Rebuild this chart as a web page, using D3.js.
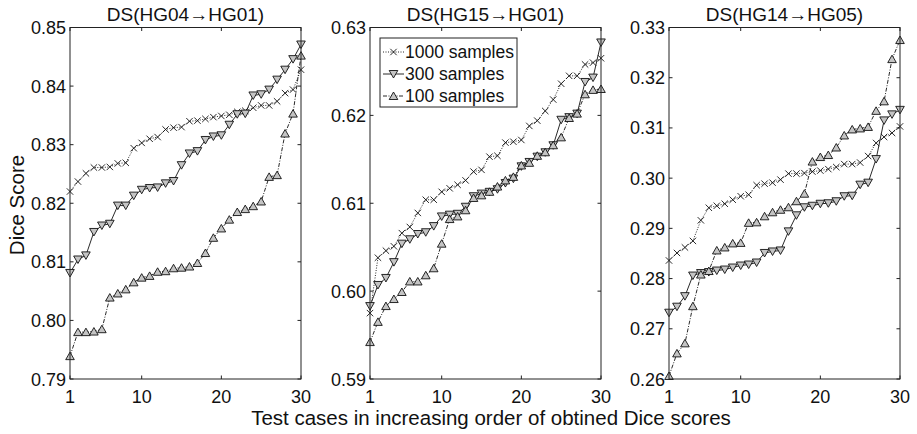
<!DOCTYPE html>
<html>
<head>
<meta charset="utf-8">
<script src="https://cdn.jsdelivr.net/npm/d3@7"></script>
<style>
  body { margin: 0; background: #fff; }
  svg { font-family: "Liberation Sans", Arial, Helvetica, sans-serif; }
  .tick-label { font-size: 18px; fill: #111; }
</style>
</head>
<body>
<div id="chart"></div>
<script>
// test case index 1..30
const cases = d3.range(1, 31);

const seriesNames = ["1000 samples", "300 samples", "100 samples"];

const panelTitles = ["DS(HG04\u2192HG01)", "DS(HG15\u2192HG01)", "DS(HG14\u2192HG05)"];
const panelDomains = [[0.79, 0.85], [0.59, 0.63], [0.26, 0.33]];
const panelYTicks = [
  [0.79, 0.80, 0.81, 0.82, 0.83, 0.84, 0.85],
  [0.59, 0.60, 0.61, 0.62, 0.63],
  [0.26, 0.27, 0.28, 0.29, 0.30, 0.31, 0.32, 0.33]
];
const xTicks = [1, 10, 20, 30];

// panel 1: HG04 -> HG01
const p1_1000 = [0.8220, 0.8237, 0.8251, 0.8261, 0.8261, 0.8262, 0.8268, 0.8269, 0.8294, 0.8303,
                 0.8310, 0.8313, 0.8326, 0.8329, 0.8330, 0.8340, 0.8341, 0.8344, 0.8347, 0.8349,
                 0.8351, 0.8356, 0.8358, 0.8363, 0.8367, 0.8367, 0.8374, 0.8388, 0.8394, 0.8428];
const p1_300  = [0.8081, 0.8104, 0.8111, 0.8151, 0.8162, 0.8165, 0.8196, 0.8196, 0.8213, 0.8223,
                 0.8226, 0.8227, 0.8234, 0.8238, 0.8265, 0.8285, 0.8289, 0.8308, 0.8314, 0.8316,
                 0.8334, 0.8352, 0.8353, 0.8384, 0.8386, 0.8394, 0.8411, 0.8428, 0.8446, 0.8471];
const p1_100  = [0.7939, 0.7980, 0.7980, 0.7981, 0.7985, 0.8039, 0.8046, 0.8053, 0.8065, 0.8073,
                 0.8076, 0.8083, 0.8084, 0.8089, 0.8090, 0.8092, 0.8098, 0.8115, 0.8141, 0.8157,
                 0.8172, 0.8185, 0.8190, 0.8195, 0.8203, 0.8245, 0.8248, 0.8319, 0.8353, 0.8452];

// panel 2: HG15 -> HG01
const p2_1000 = [0.5975, 0.6038, 0.6046, 0.6051, 0.6066, 0.6073, 0.6089, 0.6104, 0.6104, 0.6113,
                 0.6117, 0.6121, 0.6126, 0.6136, 0.6138, 0.6153, 0.6154, 0.6169, 0.6170, 0.6172,
                 0.6188, 0.6194, 0.6205, 0.6218, 0.6236, 0.6245, 0.6245, 0.6258, 0.6260, 0.6265];
const p2_300  = [0.5983, 0.6007, 0.6015, 0.6033, 0.6054, 0.6059, 0.6065, 0.6067, 0.6074, 0.6085,
                 0.6087, 0.6088, 0.6096, 0.6108, 0.6111, 0.6113, 0.6116, 0.6123, 0.6128, 0.6142,
                 0.6147, 0.6153, 0.6158, 0.6166, 0.6195, 0.6198, 0.6202, 0.6238, 0.6243, 0.6283];
const p2_100  = [0.5942, 0.5965, 0.5983, 0.5991, 0.5999, 0.6011, 0.6011, 0.6018, 0.6026, 0.6054,
                 0.6082, 0.6085, 0.6092, 0.6106, 0.6109, 0.6113, 0.6119, 0.6126, 0.6130, 0.6143,
                 0.6146, 0.6154, 0.6158, 0.6166, 0.6175, 0.6197, 0.6202, 0.6224, 0.6229, 0.6230];

// panel 3: HG14 -> HG05
const p3_1000 = [0.2836, 0.2851, 0.2862, 0.2875, 0.2916, 0.2941, 0.2945, 0.2949, 0.2957, 0.2964,
                 0.2967, 0.2986, 0.2989, 0.2991, 0.2997, 0.3009, 0.3009, 0.3010, 0.3013, 0.3015,
                 0.3018, 0.3022, 0.3028, 0.3028, 0.3031, 0.3044, 0.3070, 0.3082, 0.3090, 0.3103];
const p3_300  = [0.2732, 0.2744, 0.2765, 0.2806, 0.2811, 0.2813, 0.2816, 0.2818, 0.2822, 0.2826,
                 0.2828, 0.2832, 0.2851, 0.2854, 0.2856, 0.2894, 0.2926, 0.2942, 0.2945, 0.2949,
                 0.2950, 0.2954, 0.2964, 0.2965, 0.2987, 0.2991, 0.3038, 0.3115, 0.3127, 0.3136];
const p3_100  = [0.2606, 0.2651, 0.2671, 0.2745, 0.2808, 0.2815, 0.2856, 0.2862, 0.2870, 0.2871,
                 0.2911, 0.2912, 0.2924, 0.2932, 0.2937, 0.2942, 0.2954, 0.2969, 0.3033, 0.3042,
                 0.3046, 0.3061, 0.3085, 0.3097, 0.3099, 0.3102, 0.3134, 0.3153, 0.3237, 0.3275];

const panelData = [
  [p1_1000, p1_300, p1_100],
  [p2_1000, p2_300, p2_100],
  [p3_1000, p3_300, p3_100]
];

// line + marker style per series
const styles = [
  { dash: "1,1.5", marker: "x" },
  { dash: null,    marker: "down" },
  { dash: "4,1.5,1,1.5", marker: "up" }
];

const fullW = 917, fullH = 434;
const panelLeft = [70, 370, 669];
const panelW = 231;
const plotTop = 27.5, plotBottom = 379;

const svg = d3.select("#chart").append("svg")
  .attr("width", fullW).attr("height", fullH);

function markerPath(type) {
  if (type === "x") return "M-3.2,-3.2L3.2,3.2M-3.2,3.2L3.2,-3.2";
  if (type === "down") return "M-4.3,-3.5L4.3,-3.5L0,4Z";
  return "M-4.3,3.5L4.3,3.5L0,-4Z";
}

function drawMarkers(g, pts, type) {
  g.selectAll(null).data(pts).enter().append("path")
    .attr("transform", d => `translate(${d[0]},${d[1]})`)
    .attr("d", markerPath(type))
    .attr("fill", type === "x" ? "none" : "#c4c4c4")
    .attr("stroke", "#111")
    .attr("stroke-width", 0.9);
}

panelData.forEach((series, p) => {
  const x = d3.scaleLinear().domain([1, 30]).range([panelLeft[p], panelLeft[p] + panelW]);
  const y = d3.scaleLinear().domain(panelDomains[p]).range([plotBottom, plotTop]);
  const g = svg.append("g");

  // ticks (inward, all four sides)
  const ax = g.append("g").attr("stroke", "#222").attr("stroke-width", 1);
  xTicks.forEach(t => {
    ax.append("line").attr("x1", x(t)).attr("x2", x(t)).attr("y1", plotBottom).attr("y2", plotBottom - 3.5);
    ax.append("line").attr("x1", x(t)).attr("x2", x(t)).attr("y1", plotTop).attr("y2", plotTop + 3.5);
  });
  panelYTicks[p].forEach(t => {
    ax.append("line").attr("x1", x(1)).attr("x2", x(1) + 3.5).attr("y1", y(t)).attr("y2", y(t));
    ax.append("line").attr("x1", x(30)).attr("x2", x(30) - 3.5).attr("y1", y(t)).attr("y2", y(t));
  });

  // tick labels
  xTicks.forEach(t => {
    g.append("text").attr("class", "tick-label")
      .attr("x", x(t)).attr("y", plotBottom + 24)
      .attr("text-anchor", "middle").text(t);
  });
  panelYTicks[p].forEach(t => {
    g.append("text").attr("class", "tick-label")
      .attr("x", x(1) - 4).attr("y", y(t) + 6.5)
      .attr("text-anchor", "end").text(t.toFixed(2));
  });

  // series
  const line = d3.line().x((d, i) => x(cases[i])).y(d => y(d));
  series.forEach((vals, s) => {
    g.append("path").datum(vals)
      .attr("d", line)
      .attr("fill", "none")
      .attr("stroke", "#111")
      .attr("stroke-width", 0.9)
      .attr("stroke-dasharray", styles[s].dash);
  });
  series.forEach((vals, s) => {
    const pts = vals.map((v, i) => [x(cases[i]), y(v)]);
    drawMarkers(g.append("g"), pts, styles[s].marker);
  });

  // box
  g.append("rect")
    .attr("x", x(1)).attr("y", plotTop)
    .attr("width", panelW).attr("height", plotBottom - plotTop)
    .attr("fill", "none").attr("stroke", "#222").attr("stroke-width", 1);

  // title
  g.append("text")
    .attr("x", x(1) + panelW / 2).attr("y", plotTop - 6.5)
    .attr("text-anchor", "middle")
    .style("font-size", "19px").style("fill", "#111")
    .text(panelTitles[p]);

  // legend in middle panel
  if (p === 1) {
    const lx = 380, ly = 38, lw = 137, lh = 69;
    const lg = g.append("g");
    lg.append("rect").attr("x", lx).attr("y", ly).attr("width", lw).attr("height", lh)
      .attr("fill", "#fff").attr("stroke", "#222").attr("stroke-width", 1);
    seriesNames.forEach((name, s) => {
      const ry = ly + 14 + s * 22;
      lg.append("line").attr("x1", lx + 3).attr("x2", lx + 24).attr("y1", ry).attr("y2", ry)
        .attr("stroke", "#111").attr("stroke-width", 0.9)
        .attr("stroke-dasharray", styles[s].dash);
      drawMarkers(lg.append("g"), [[lx + 13.5, ry]], styles[s].marker);
      lg.append("text").attr("x", lx + 25).attr("y", ry + 6)
        .style("font-size", "17.5px").style("fill", "#111").text(name);
    });
  }
});

// shared axis labels
svg.append("text")
  .attr("x", 491).attr("y", 425)
  .attr("text-anchor", "middle")
  .style("font-size", "20.5px").style("fill", "#111")
  .text("Test cases in increasing order of obtined Dice scores");

svg.append("text")
  .attr("transform", "translate(24,205) rotate(-90)")
  .attr("text-anchor", "middle")
  .style("font-size", "20.5px").style("fill", "#111")
  .text("Dice Score");
</script>
</body>
</html>
